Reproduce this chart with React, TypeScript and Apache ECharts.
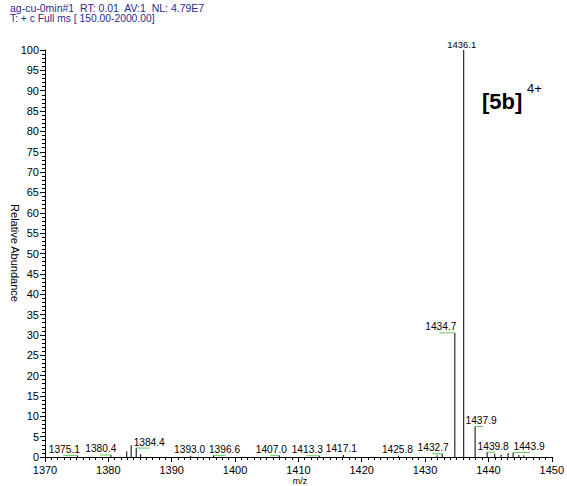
import React, { useEffect, useRef } from "react";
import * as echarts from "echarts";

// labelled peaks: m/z and relative abundance
const labelledMz = [1375.1, 1380.4, 1384.4, 1393.0, 1396.6, 1407.0, 1413.3, 1417.1, 1425.8, 1432.7, 1434.7, 1436.1, 1437.9, 1439.8, 1443.9];
const labelledInt = [0.4, 0.5, 2.2, 0.3, 0.4, 0.4, 0.3, 0.5, 0.3, 0.8, 30.5, 100, 7.5, 1.2, 1.1];
const labelTexts = ["1375.1", "1380.4", "1384.4", "1393.0", "1396.6", "1407.0", "1413.3", "1417.1", "1425.8", "1432.7", "1434.7", "1436.1", "1437.9", "1439.8", "1443.9"];
// unlabelled small peaks
const smallMz = [1382.9, 1383.6, 1385.1, 1431.9, 1441.0, 1442.0, 1443.1, 1444.8, 1445.6];
const smallInt = [1.4, 2.9, 0.7, 0.4, 0.8, 0.6, 1.0, 0.5, 0.4];
const yTicks = { min: 0, max: 100, step: 5 };
const xTicks = { min: 1370, max: 1450, step: 10 };

// label placement style: horizontal shift (px) of each label centre from its peak
const labelDx: Record<string, number> = {
  "1375.1": -13,
  "1380.4": -10,
  "1384.4": 13,
  "1393.0": -1,
  "1396.6": 11,
  "1407.0": -8,
  "1413.3": -12,
  "1417.1": -2,
  "1425.8": -1,
  "1432.7": -9,
  "1434.7": -14,
  "1436.1": -2,
  "1437.9": 6,
  "1439.8": 6,
  "1443.9": 16,
};

const FONT = "Liberation Sans, Arial, sans-serif";

export default function App() {
  const ref = useRef<HTMLDivElement>(null);
  useEffect(() => {
    if (!ref.current) return;
    const chart = echarts.init(ref.current, null, { renderer: "svg" });
    const peakData = labelledMz.map((m, i) => [m, labelledInt[i], i]);
    const smallData = smallMz.map((m, i) => [m, smallInt[i], -1]);

    const renderItem = (params: any, api: any) => {
      const mz = api.value(0);
      const inten = api.value(1);
      const li = api.value(2);
      const base = api.coord([mz, 0]);
      const top = api.coord([mz, inten]);
      const children: any[] = [
        {
          type: "line",
          shape: { x1: base[0], y1: base[1], x2: top[0], y2: top[1] },
          style: { stroke: "#000", lineWidth: 1 },
        },
      ];
      if (li >= 0) {
        const txt = labelTexts[li];
        const dx = labelDx[txt] || 0;
        children.push({
          type: "text",
          style: {
            x: top[0] + dx,
            y: top[1] - 1,
            text: txt,
            fill: "#000",
            font: `${txt === "1436.1" ? 9.5 : 10.2}px ${FONT}`,
            align: "center",
            verticalAlign: "bottom",
          },
        });
        if (Math.abs(dx) > 4) {
          const len = Math.max(8, Math.min(17, Math.abs(dx) + 1));
          const dir = dx > 0 ? 1 : -1;
          children.push({
            type: "line",
            shape: { x1: top[0], y1: top[1], x2: top[0] + dir * len, y2: top[1] },
            style: { stroke: "#5cc85c", lineWidth: 1 },
          });
        }
      }
      return { type: "group", children };
    };

    chart.setOption({
      animation: false,
      grid: { left: 45, right: 9, top: 50, bottom: 29 },
      graphic: [
        {
          type: "text",
          left: 10,
          top: 2,
          style: {
            text: "ag-cu-0min#1  RT: 0.01  AV:1  NL: 4.79E7",
            fill: "#2a2a90",
            font: `10.5px ${FONT}`,
          },
        },
        {
          type: "text",
          left: 10,
          top: 13,
          style: {
            text: "T: + c Full ms [ 150.00-2000.00]",
            fill: "#2a2a90",
            font: `10.3px ${FONT}`,
          },
        },
        {
          type: "text",
          x: 15,
          y: 253,
          rotation: -Math.PI / 2,
          style: {
            text: "Relative Abundance",
            fill: "#000",
            font: `11px ${FONT}`,
            align: "center",
            verticalAlign: "middle",
          },
        },
        {
          type: "text",
          x: 300,
          y: 476,
          style: {
            text: "m/z",
            fill: "#000",
            font: `9px ${FONT}`,
            align: "center",
            verticalAlign: "top",
          },
        },
        {
          type: "text",
          x: 482,
          y: 101,
          style: {
            text: "[5b]",
            fill: "#000",
            font: `bold 22px ${FONT}`,
            align: "left",
            verticalAlign: "middle",
          },
        },
        {
          type: "text",
          x: 527,
          y: 88,
          style: {
            text: "4+",
            fill: "#000",
            font: `13px ${FONT}`,
            align: "left",
            verticalAlign: "middle",
          },
        },
      ],
      xAxis: {
        type: "value",
        min: xTicks.min,
        max: xTicks.max,
        interval: xTicks.step,
        axisLine: { lineStyle: { color: "#000", width: 1 } },
        axisTick: { length: 5, lineStyle: { color: "#000" } },
        minorTick: { show: true, splitNumber: 10, length: 3, lineStyle: { color: "#000" } },
        splitLine: { show: false },
        axisLabel: {
          color: "#000",
          fontSize: 11,
          fontFamily: FONT,
          margin: 7,
          formatter: (v: number) => String(v),
        },
      },
      yAxis: {
        type: "value",
        min: yTicks.min,
        max: yTicks.max,
        interval: yTicks.step,
        axisLine: { show: true, lineStyle: { color: "#000", width: 1 } },
        axisTick: { show: true, length: 5, lineStyle: { color: "#000" } },
        minorTick: { show: true, splitNumber: 5, length: 3, lineStyle: { color: "#000" } },
        splitLine: { show: false },
        axisLabel: { color: "#000", fontSize: 11, fontFamily: FONT, margin: 6 },
      },
      series: [
        { type: "custom", renderItem, data: smallData, clip: false },
        { type: "custom", renderItem, data: peakData, clip: false },
      ],
    });
    return () => chart.dispose();
  }, []);
  return <div ref={ref} style={{ width: 567, height: 486, position: "absolute", left: 0, top: 0 }} />;
}
